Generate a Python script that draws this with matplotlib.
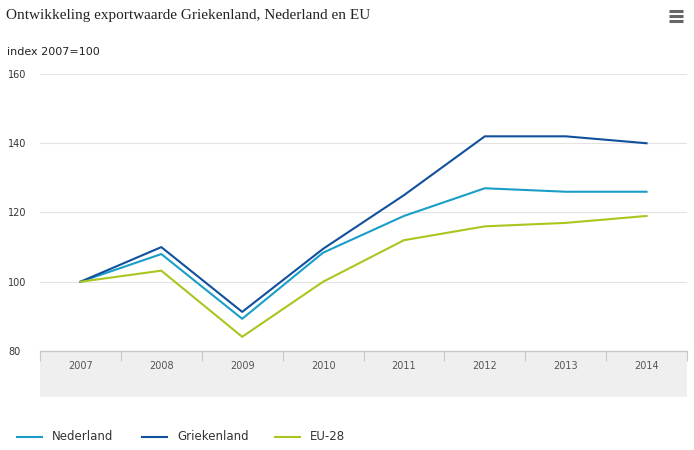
import numpy as np
import matplotlib.pyplot as plt
from matplotlib.lines import Line2D

years = ['2007', '2008', '2009', '2010', '2011', '2012', '2013', '2014']
nederland = [100, 108, 89.3, 108.4, 119, 127, 126, 126]
griekenland = [100, 110, 91.3, 109.5, 125, 142, 142, 140]
eu28 = [100, 103.2, 84.1, 100, 112, 116, 117, 119]
yticks = [80, 100, 120, 140, 160]

c_nl = '#1a9ec8'
c_gr = '#10509c'
c_eu = '#a9c61f'

W, H = 694, 450
fig = plt.figure(figsize=(W / 100, H / 100), dpi=100)

def fx(px):
    return px / W

def fy(py):
    return 1 - py / H

# grey band under the x axis (separate axes behind the chart)
band = fig.add_axes([fx(40), fy(397), fx(687) - fx(40), fy(351) - fy(397)], zorder=0)
band.set_facecolor('#efefef')
band.set_xticks([])
band.set_yticks([])
for s in band.spines.values():
    s.set_visible(False)

ax = fig.add_axes([fx(40), fy(351), fx(687) - fx(40), fy(74) - fy(351)], zorder=1)
ax.patch.set_alpha(0)

x = np.arange(len(years))
ax.plot(x, nederland, color=c_nl, lw=1.5, zorder=3)
ax.plot(x, griekenland, color=c_gr, lw=1.5, zorder=3)
ax.plot(x, eu28, color=c_eu, lw=1.5, zorder=3)

ax.set_xlim(-0.5, len(years) - 0.5)
ax.set_ylim(80, 160)

for s in ['top', 'right', 'left']:
    ax.spines[s].set_visible(False)
ax.spines['bottom'].set_color('#c8c8c8')
ax.spines['bottom'].set_linewidth(1)

ax.set_yticks(yticks)
ax.set_yticklabels([str(v) for v in yticks], fontsize=7, color='#333333')
ax.tick_params(axis='y', length=0, pad=23)
for lab in ax.get_yticklabels():
    lab.set_horizontalalignment('left')
ax.grid(axis='y', color='#e3e3e3', lw=0.8, zorder=0)

ax.set_xticks(x)
ax.set_xticklabels(years, fontsize=7, color='#555555')
ax.tick_params(axis='x', length=0, pad=7)
ax.set_xticks(np.arange(-0.5, len(years), 1), minor=True)
ax.tick_params(axis='x', which='minor', length=7, color='#c8c8c8', width=0.8)

fig.text(fx(6), fy(15), 'Ontwikkeling exportwaarde Griekenland, Nederland en EU',
         fontsize=11, family='Liberation Serif', color='#222222', va='center')
fig.text(fx(7), fy(52), 'index 2007=100', fontsize=8, color='#222222', va='center')

# menu icon
for yy in [11, 16, 21]:
    fig.lines.append(Line2D([fx(669), fx(683)], [fy(yy), fy(yy)], transform=fig.transFigure,
                            color='#666666', lw=2.2, solid_capstyle='butt'))

# legend
legend_items = [('Nederland', c_nl, 17), ('Griekenland', c_gr, 142), ('EU-28', c_eu, 275)]
for name, col, x0 in legend_items:
    fig.lines.append(Line2D([fx(x0), fx(x0 + 25)], [fy(437), fy(437)], transform=fig.transFigure,
                            color=col, lw=1.5))
    fig.text(fx(x0 + 35), fy(437), name, fontsize=8.5, color='#333333', va='center')

fig.savefig('out.png', dpi=100)
